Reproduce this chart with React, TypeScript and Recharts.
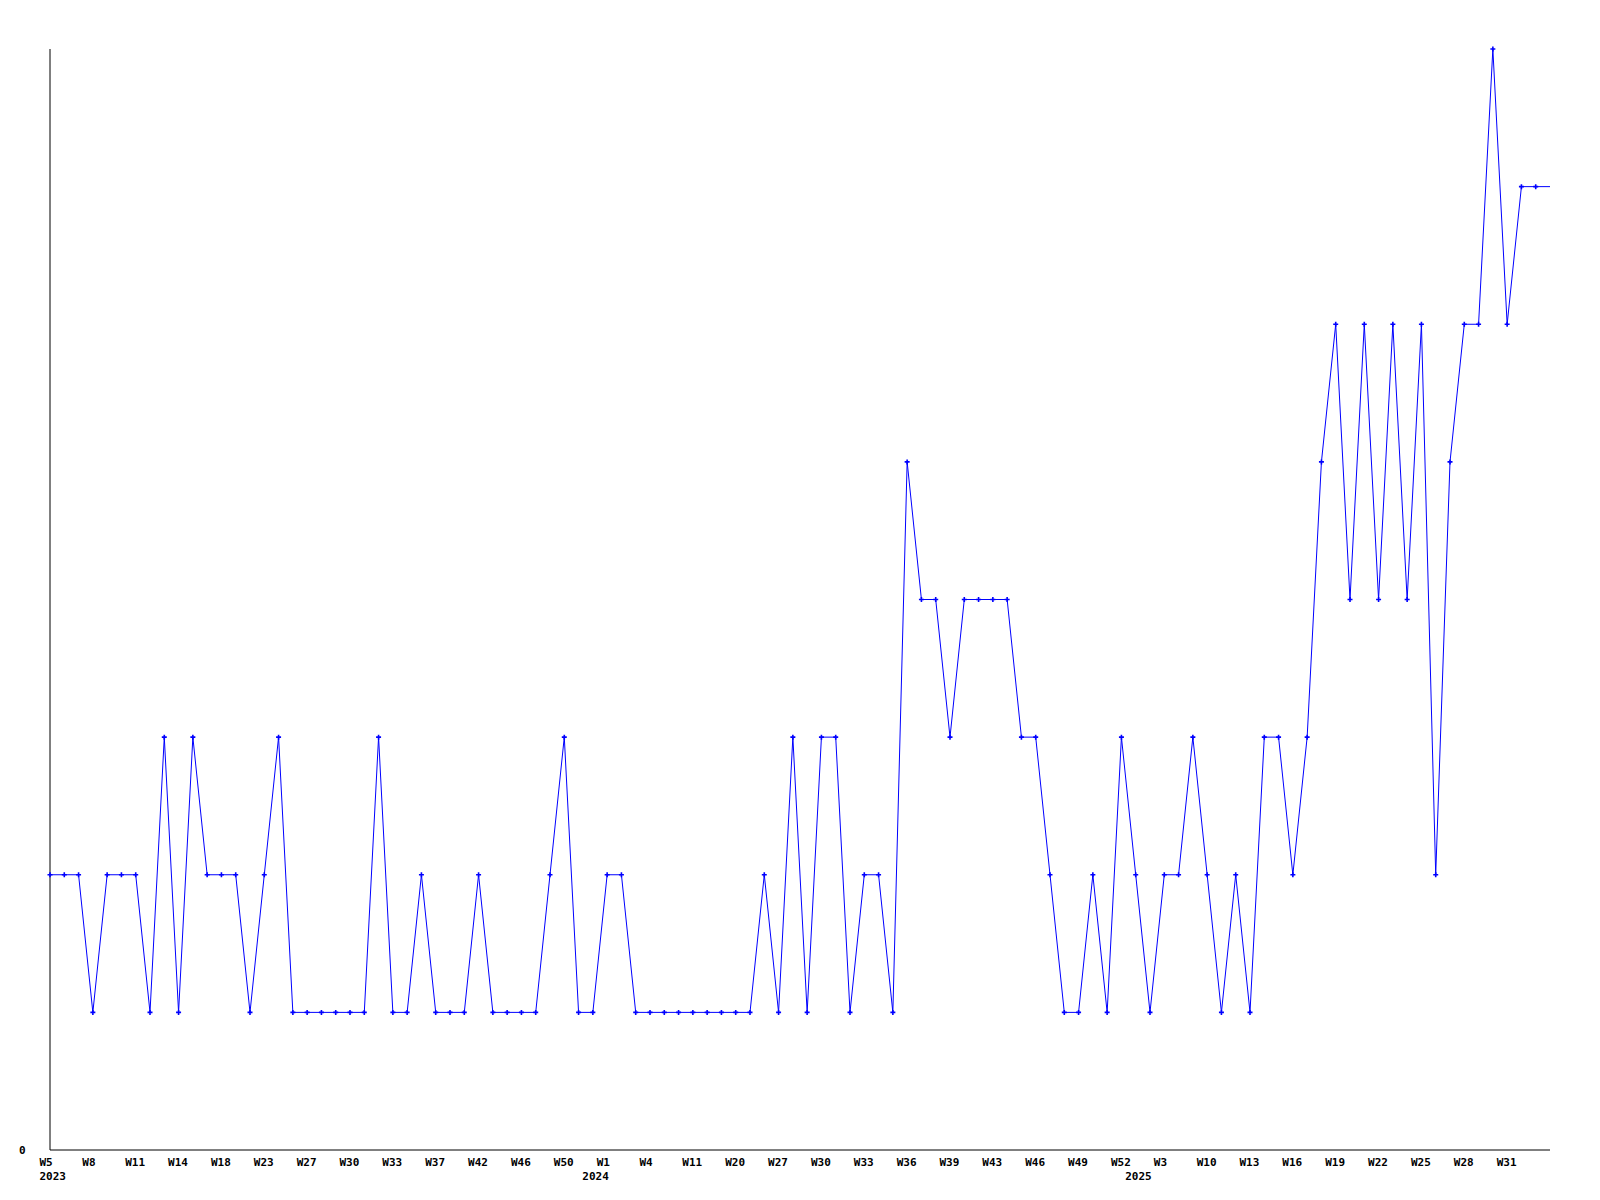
import React from 'react';
import { LineChart, Line, XAxis, YAxis } from 'recharts';

// weekly counts, one point per week that has data
const counts = [
  2, 2, 2, 1, 2, 2, 2, 1, 3, 1,
  3, 2, 2, 2, 1, 2, 3, 1, 1, 1,
  1, 1, 1, 3, 1, 1, 2, 1, 1, 1,
  2, 1, 1, 1, 1, 2, 3, 1, 1, 2,
  2, 1, 1, 1, 1, 1, 1, 1, 1, 1,
  2, 1, 3, 1, 3, 3, 1, 2, 2, 1,
  5, 4, 4, 3, 4, 4, 4, 4, 3, 3,
  2, 1, 1, 2, 1, 3, 2, 1, 2, 2,
  3, 2, 1, 2, 1, 3, 3, 2, 3, 5,
  6, 4, 6, 4, 6, 4, 6, 2, 5, 6,
  6, 8, 6, 7, 7, 7,
];

// labels shown on every third point
const weekLabels = [
  'W5', 'W8', 'W11', 'W14', 'W18', 'W23', 'W27', 'W30', 'W33', 'W37', 'W42', 'W46',
  'W50', 'W1', 'W4', 'W11', 'W20', 'W27', 'W30', 'W33', 'W36', 'W39', 'W43', 'W46',
  'W49', 'W52', 'W3', 'W10', 'W13', 'W16', 'W19', 'W22', 'W25', 'W28', 'W31',
];

const years = ['2023', '2024', '2025'];
const yearPoints = [0, 38, 76];

const data = counts.map((v, i) => ({ i, v }));

const FONT = '"DejaVu Sans Mono", monospace';

const WeekTick = (props: any) => {
  const { x, y, payload } = props;
  const idx = payload.value;
  const week = idx % 3 === 0 ? weekLabels[idx / 3] : null;
  const yi = yearPoints.indexOf(idx);
  return (
    <g>
      {week && (
        <text x={x - 10.5} y={y + 16} textAnchor="start" fontFamily={FONT} fontWeight="bold" fontSize={11} fill="#000">
          {week}
        </text>
      )}
      {yi >= 0 && (
        <text x={x - 10.5} y={y + 30} textAnchor="start" fontFamily={FONT} fontWeight="bold" fontSize={11} fill="#000">
          {years[yi]}
        </text>
      )}
    </g>
  );
};

const ZeroTick = (props: any) => {
  const { y, payload } = props;
  return (
    <text x={19} y={y + 4} textAnchor="start" fontFamily={FONT} fontWeight="bold" fontSize={11} fill="#000">
      {payload.value}
    </text>
  );
};

const PlusDot = (props: any) => {
  const { cx, cy, index } = props;
  if (index === counts.length - 1 || cx == null) return <g key={`d${index}`} />;
  return (
    <path
      key={`d${index}`}
      d={`M${cx - 2.5},${cy}H${cx + 2.5}M${cx},${cy - 2.5}V${cy + 2.5}`}
      stroke="#0000ff"
      strokeWidth={1.6}
      fill="none"
    />
  );
};

export default function App() {
  return (
    <div style={{ position: 'absolute', left: 0, top: 0, background: '#fff' }}>
      <LineChart width={1600} height={1200} data={data} margin={{ top: 49, right: 50, bottom: 0, left: 0 }}>
        <XAxis
          dataKey="i"
          type="category"
          interval={0}
          height={50}
          tickLine={false}
          tickSize={0}
          tickMargin={0}
          axisLine={{ stroke: '#000' }}
          tick={<WeekTick />}
        />
        <YAxis
          width={50}
          domain={[0, 8]}
          ticks={[0]}
          tickLine={false}
          tickSize={0}
          tickMargin={0}
          axisLine={{ stroke: '#000' }}
          tick={<ZeroTick />}
        />
        <Line
          type="linear"
          dataKey="v"
          stroke="#0000ff"
          strokeWidth={1}
          dot={PlusDot}
          activeDot={false}
          isAnimationActive={false}
        />
      </LineChart>
    </div>
  );
}
